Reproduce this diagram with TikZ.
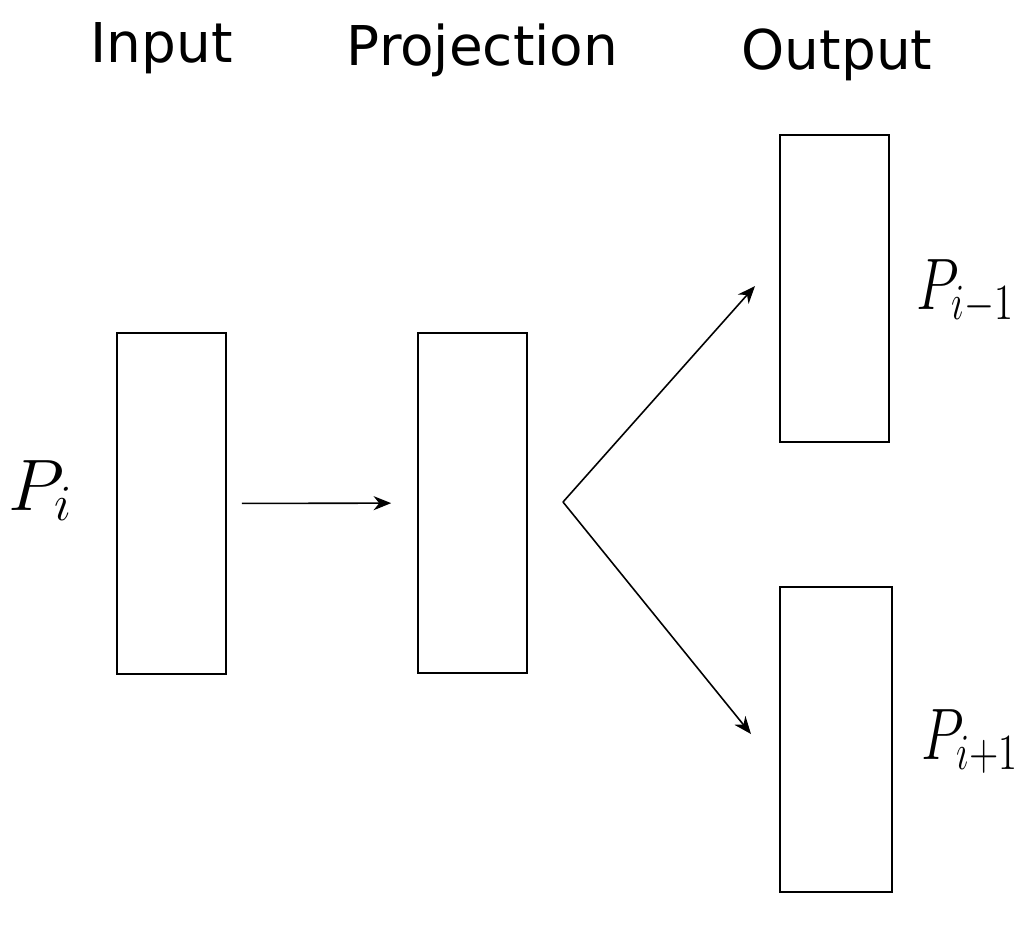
\documentclass[tikz,border=0pt]{standalone}
\usepackage{amsmath}
\usepackage{graphicx}
\usepackage{fontspec}
\newfontfamily\headfont{DejaVu Sans}
\usetikzlibrary{positioning,arrows.meta}

\begin{document}
\begin{tikzpicture}[
    x=0.01cm, y=-0.01cm,
    box/.style={rectangle, draw, line width=0.45pt, minimum width=1.09cm, inner sep=0pt},
    arrow/.style={-{Stealth[length=5pt,width=4pt,inset=1.6pt]}, line width=0.45pt},
    head/.style={font=\headfont\fontsize{15.6}{18}\selectfont, anchor=base},
    lbl/.style={font=\fontsize{22}{26}\selectfont, anchor=base west, inner sep=0pt}
]
\useasboundingbox (0,0) rectangle (1036,932);

% Column headers
\node[head] (hin) at (161.5, 62) {Input};
\node[head] (hproj) at (482.5, 65) {Projection};
\node[head] (hout) at (837, 69) {Output};

% Boxes
\node[box, minimum height=3.41cm] (inp) at (171.5, 503.5) {};
\node[box, minimum height=3.40cm] (proj) at (472.5, 503) {};
\node[box, minimum height=3.07cm] (outA) at (834.5, 288.5) {};
\node[box, minimum height=3.05cm, minimum width=1.12cm] (outB) at (836, 739.5) {};

% Labels
\node[lbl] (pin) at (8, 510) {$P_i$};
\node[lbl] (pA) at (916, 309) {\scalebox{0.76}[1]{$P_{i-1}$}};
\node[lbl] (pB) at (921, 759) {\scalebox{0.76}[1]{$P_{i+1}$}};

% Arrows
\coordinate (split) at (563, 502);
\coordinate (tipA) at (755, 286);
\coordinate (tipB) at (751, 734);
\draw[arrow, shorten <=0.15cm, shorten >=0.26cm] (inp) -- (proj);
\draw[arrow] (split) -- (tipA);
\draw[arrow] (split) -- (tipB);

\end{tikzpicture}
\end{document}
